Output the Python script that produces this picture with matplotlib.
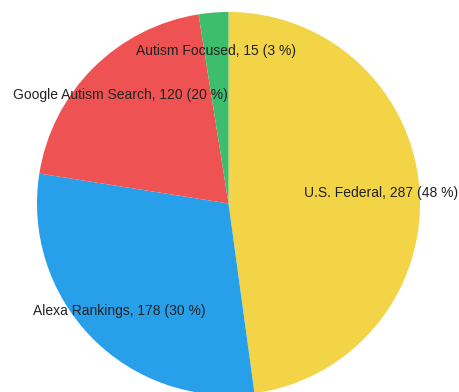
import matplotlib.pyplot as plt

sources = ['U.S. Federal', 'Alexa Rankings', 'Google Autism Search', 'Autism Focused']
counts = [287, 178, 120, 15]
colors = ['#F3D446', '#289FE9', '#EE5253', '#3DBE6C']

total = sum(counts)
labels = ['%s, %d (%d %%)' % (s, c, round(100.0 * c / total + 1e-9)) for s, c in zip(sources, counts)]

fig = plt.figure(figsize=(4.59, 3.92), dpi=100)
# pie spans pixels x 37..420, y 12..395
ax = fig.add_axes([37 / 459, (392 - 395) / 392, 383 / 459, 383 / 392])
wedges, texts = ax.pie(counts, labels=labels, colors=colors, startangle=90,
                       counterclock=False, labeldistance=0.8, radius=1,
                       wedgeprops=dict(linewidth=0),
                       textprops=dict(fontsize=10, color='#222222', family='Liberation Sans'))
for t in texts:
    t.set_ha('center')
    t.set_va('center')
ax.set_xlim(-1, 1)
ax.set_ylim(-1, 1)
ax.set_aspect('equal')
ax.axis('off')

fig.savefig('out.png', dpi=100)
